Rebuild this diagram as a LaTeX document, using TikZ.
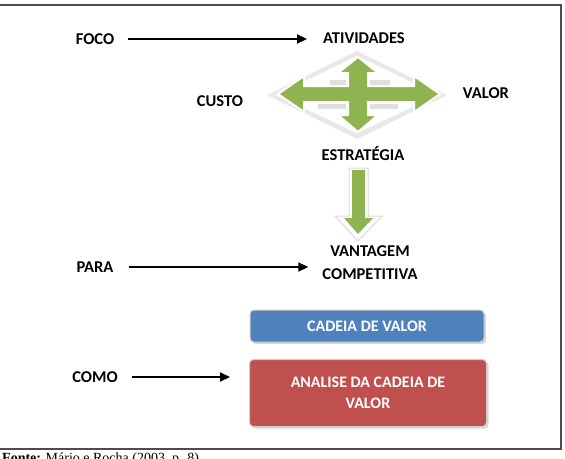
\documentclass[tikz,border=0pt]{standalone}
\usepackage{fontspec}
\setmainfont{Carlito}
\newfontfamily\fontefam{Liberation Serif}
\usetikzlibrary{arrows.meta,shadows}
\definecolor{verde}{RGB}{141,180,80}
\definecolor{azul}{RGB}{79,129,189}
\definecolor{vermelho}{RGB}{192,80,77}
\tikzset{
  lbl/.style={font=\fontsize{16.5}{23}\selectfont\bfseries, align=center, inner sep=0pt},
  seta/.style={-{Triangle[length=10pt,width=9pt]}, line width=2pt},
  caixa/.style={rounded corners=4pt, draw=gray!40, line width=1pt, text=white,
    font=\fontsize{16}{21}\selectfont\bfseries, align=center,
    drop shadow={shadow xshift=2pt, shadow yshift=-2pt, fill=gray!60}}
}
\begin{document}
\begin{tikzpicture}[x=1pt,y=-1pt]
\clip (0,0) rectangle (565,458);
\draw[line width=1.5pt, gray!60!black] (-5,5) rectangle (561,449);

\node[lbl] (foco) at (95,39) {FOCO};
\node[lbl] (ativ) at (364,38) {ATIVIDADES};
\node[lbl] (custo) at (220,101) {CUSTO};
\node[lbl] (valor) at (486,93) {VALOR};
\node[lbl] (estr) at (363,154) {ESTRATÉGIA};
\node[lbl] (vant) at (370,263) {VANTAGEM\\COMPETITIVA};
\node[lbl] (para) at (95,267) {PARA};
\node[lbl] (como) at (95,377) {COMO};

\node[caixa, fill=azul, minimum width=234pt, minimum height=32pt] (cadeia) at (367,326) {CADEIA DE VALOR};
\node[caixa, fill=vermelho, minimum width=237pt, minimum height=67pt] (analise) at (368,393) {ANALISE DA CADEIA DE\\VALOR};

\draw[seta] ([xshift=14pt]foco.east) -- ([xshift=-16pt]ativ.west |- foco.east);
\draw[seta] ([xshift=15pt]para.east) -- ([xshift=-14pt]vant.west |- para.east);
\draw[seta] ([xshift=14pt]como.east) -- ([xshift=-19pt]analise.west |- como.east);

\fill[gray!18] (357,51) -- (447,95) -- (357,139) -- (267,95) -- cycle;
\fill[white] (357,56) -- (438,95) -- (357,133) -- (276,95) -- cycle;
\fill[gray!25] (330,80) rectangle (346,85);
\fill[gray!25] (370,80) rectangle (390,85);
\fill[gray!25] (318,104) rectangle (346,109);
\fill[gray!25] (370,104) rectangle (398,109);
\filldraw[fill=verde, draw=white, line width=2pt]
  (358,57) -- (378,73) -- (368,73) -- (368,86) -- (414,86) -- (414,76) -- (440,94)
  -- (414,112) -- (414,102) -- (368,102) -- (368,115) -- (378,115) -- (358,132)
  -- (338,115) -- (348,115) -- (348,102) -- (304,102) -- (304,112) -- (278,94)
  -- (304,76) -- (304,86) -- (348,86) -- (348,73) -- (338,73) -- cycle;

\filldraw[fill=white, draw=gray!30, line width=1pt]
  (349,168) -- (368,168) -- (368,216) -- (382,216) -- (358,241) -- (335,216) -- (349,216) -- cycle;
\fill[verde] (352,170) -- (365,170) -- (365,218) -- (373,218) -- (358,234) -- (344,218) -- (352,218) -- cycle;

\node[font=\fontefam\fontsize{14}{16}\selectfont, anchor=base west, inner sep=0pt] (fonte) at (2,462)
  {\textbf{Fonte:} Mário e Rocha (2003, p. 8)};
\end{tikzpicture}
\end{document}
